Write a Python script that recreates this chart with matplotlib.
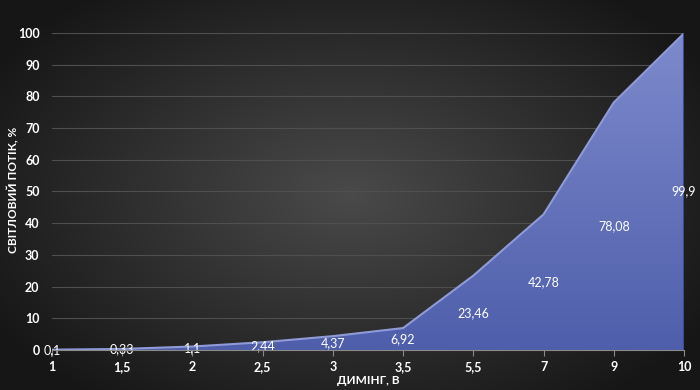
import matplotlib.pyplot as plt
import numpy as np
from matplotlib.patches import Polygon

# data
categories = ['1', '1,5', '2', '2,5', '3', '3,5', '5,5', '7', '9', '10']
flux = [0.1, 0.33, 1.1, 2.44, 4.37, 6.92, 23.46, 42.78, 78.08, 99.9]
point_labels = ['0,1', '0,33', '1,1', '2,44', '4,37', '6,92', '23,46', '42,78', '78,08', '99,9']
y_ticks = list(range(0, 101, 10))

plt.rcParams['font.family'] = ['Lato', 'Open Sans', 'DejaVu Sans']

fig = plt.figure(figsize=(7, 3.9), dpi=100)

# radial dark background
bg = fig.add_axes([0, 0, 1, 1], zorder=-10)
gx, gy = np.meshgrid(np.linspace(-1, 1, 400), np.linspace(-1, 1, 300))
r = np.sqrt((gx / 1.0) ** 2 + (gy / 1.1) ** 2)
shade = np.clip(0.29 - 0.17 * r, 0.09, 1)
bg.imshow(np.dstack([shade, shade, shade]), aspect='auto', extent=[0, 1, 0, 1])
bg.set_axis_off()

ax = fig.add_axes([0.0743, 0.1026, 0.9028, 0.8128])
ax.patch.set_alpha(0)
x = np.arange(len(categories))

# gradient fill under the curve
verts = [(x[0], 0)] + list(zip(x, flux)) + [(x[-1], 0)]
poly = Polygon(verts, closed=True, facecolor='none', edgecolor='none')
ax.add_patch(poly)
grad = np.linspace(0, 1, 256).reshape(-1, 1)
top = np.array([0.49, 0.54, 0.80])
bot = np.array([0.31, 0.37, 0.67])
img = bot + (top - bot) * grad
img = img.reshape(256, 1, 3)
im = ax.imshow(img, aspect='auto', origin='lower', extent=[x[0], x[-1], 0, 100], zorder=2)
im.set_clip_path(poly)
ax.plot(x, flux, color='#8f9ad6', linewidth=1.5, zorder=3)
ax.plot([x[-1], x[-1]], [0, flux[-1]], color='#3d4a94', linewidth=1.5, zorder=3)

for xi, v, lab in zip(x, flux, point_labels):
    ax.text(xi, v / 2, lab, color='white', fontsize=9, ha='center', va='center', zorder=5)

ax.set_xlim(x[0], x[-1])
ax.set_ylim(0, 100)
ax.set_xticks(x)
ax.set_xticklabels(categories, color='white', fontsize=9, fontweight='bold')
ax.set_yticks(y_ticks)
ax.set_yticklabels([str(t) for t in y_ticks], color='white', fontsize=9, fontweight='bold')
ax.tick_params(axis='y', length=0, pad=9)
ax.tick_params(axis='x', length=4, color='#8a8a8a', direction='out', pad=4)
ax.grid(axis='y', color='#4f4f4f', linewidth=0.8, zorder=0)
ax.set_axisbelow(True)
for s in ['top', 'right', 'left']:
    ax.spines[s].set_visible(False)
ax.spines['bottom'].set_color('#8a8a8a')
ax.spines['bottom'].set_zorder(6)

fig.text(368 / 700, 1 - 381 / 390, 'ДИМІНГ, В', color='white', fontsize=8.5,
         fontweight='bold', ha='center', va='center')
fig.text(13 / 700, 1 - 190 / 390, 'СВІТЛОВИЙ ПОТІК, %', color='white', fontsize=8.5,
         fontweight='bold', ha='center', va='center', rotation=90)

fig.savefig('out.png', dpi=100)
